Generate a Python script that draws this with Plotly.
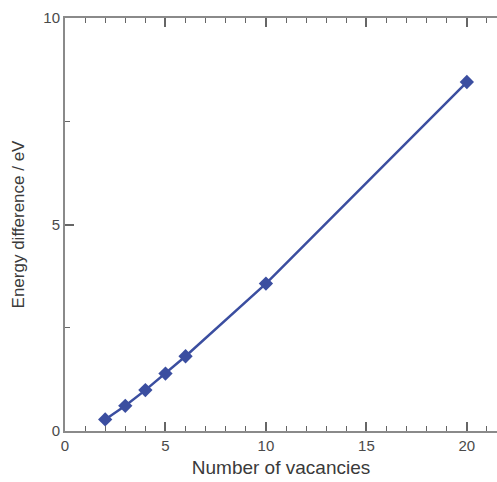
import plotly.graph_objects as go

vacancies = [2, 3, 4, 5, 6, 10, 20]
energy_diff = [0.28, 0.61, 0.99, 1.39, 1.81, 3.57, 8.45]

x_ticks = [0, 5, 10, 15, 20]
y_ticks = [0, 5, 10]

blue = "#3b4ea0"
axcol = "#8a8a8a"
font = "Liberation Sans, Arial, sans-serif"

fig = go.Figure()
fig.add_trace(go.Scatter(
    x=vacancies, y=energy_diff, mode="lines+markers",
    line=dict(color=blue, width=2.5),
    marker=dict(symbol="diamond", size=11, color=blue),
    showlegend=False,
))

fig.update_layout(
    width=497, height=482,
    margin=dict(l=65, r=0, t=18, b=51),
    plot_bgcolor="white", paper_bgcolor="white",
    font=dict(family=font, size=15, color="#444"),
)
fig.update_xaxes(
    range=[0, 21.5], tickvals=x_ticks, ticks="inside", ticklen=9, tickwidth=1.5,
    tickcolor="#666", showline=True, linecolor=axcol, linewidth=2, mirror="ticks",
    showgrid=False, zeroline=False,
    minor=dict(dtick=1, ticks="inside", ticklen=5, tickwidth=1.2, tickcolor="#666"),
    title=dict(text="Number of vacancies", font=dict(size=19, color="#3a3a3a"), standoff=8),
    tickfont=dict(size=15, color="#4a4a4a"),
)
fig.update_yaxes(
    range=[0, 10], tickvals=y_ticks, ticks="inside", ticklen=9, tickwidth=1.5,
    tickcolor="#666", showline=True, linecolor=axcol, linewidth=2,
    showgrid=False, zeroline=False,
    minor=dict(tickvals=[2.5, 7.5], ticks="inside", ticklen=5, tickwidth=1.2, tickcolor="#666"),
    title=dict(text="Energy difference / eV", font=dict(size=17, color="#3a3a3a"), standoff=14),
    tickfont=dict(size=15, color="#4a4a4a"),
)

fig.write_html("out.html", config={"displayModeBar": False},
               post_script="document.body.style.margin='0';")
